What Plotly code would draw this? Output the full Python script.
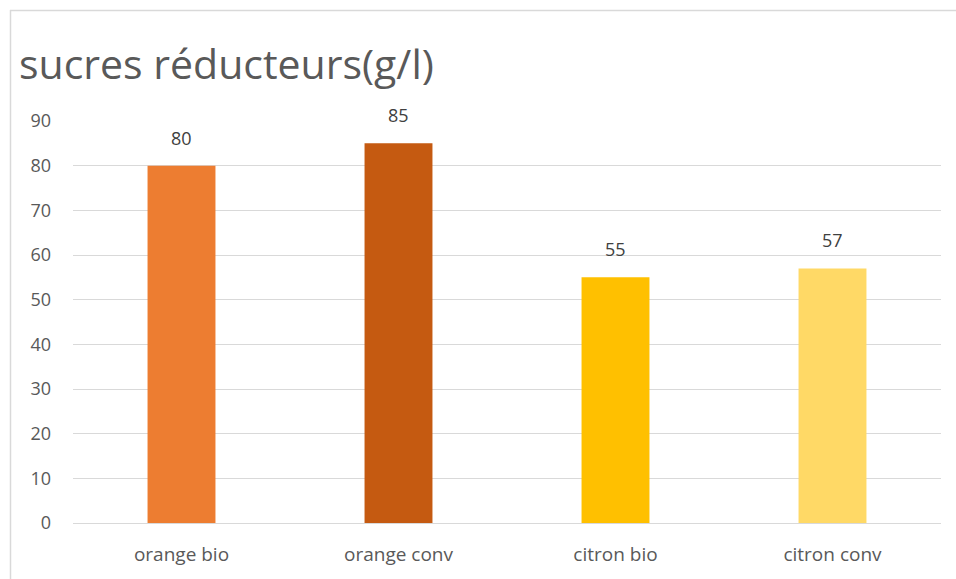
import plotly.graph_objects as go

categories = ["orange bio", "orange conv", "citron bio", "citron conv"]
values = [80, 85, 55, 57]
colors = ["#ED7D31", "#C55A11", "#FFC000", "#FFD966"]
y_ticks = [0, 10, 20, 30, 40, 50, 60, 70, 80, 90]

FONT = "Open Sans, Lato, sans-serif"

fig = go.Figure(
    go.Bar(
        x=categories,
        y=values,
        marker=dict(color=colors, line=dict(width=0)),
        width=0.313,
        hoverinfo="x+y",
    )
)

# value labels floating above each bar
for cat, val in zip(categories, values):
    fig.add_annotation(
        x=cat, y=val, text=str(val), showarrow=False,
        yanchor="bottom", yshift=14,
        font=dict(family=FONT, size=18, color="#404040"),
    )

fig.update_layout(
    width=956,
    height=579,
    margin=dict(l=73, r=15, t=121, b=56),
    paper_bgcolor="white",
    plot_bgcolor="white",
    showlegend=False,
    font=dict(family=FONT, color="#595959"),
    title=dict(
        text="sucres réducteurs(g/l)",
        x=19 / 956,
        xanchor="left",
        y=1 - 65 / 579,
        yanchor="middle",
        font=dict(family=FONT, size=41, color="#595959"),
    ),
    xaxis=dict(
        showgrid=False,
        showline=False,
        ticks="",
        tickfont=dict(family=FONT, size=19, color="#595959"),
        ticklabelstandoff=18,
    ),
    yaxis=dict(
        range=[0, 90],
        tickvals=y_ticks,
        showgrid=True,
        gridcolor="#D9D9D9",
        gridwidth=1.3,
        zeroline=True,
        zerolinecolor="#D9D9D9",
        zerolinewidth=1.3,
        showline=False,
        ticks="",
        tickfont=dict(family=FONT, size=18, color="#595959"),
        ticklabelstandoff=21,
    ),
    shapes=[
        # chart frame (top and left edges)
        dict(type="line", xref="paper", yref="paper",
             x0=(10 - 73) / 868, x1=(1000 - 73) / 868,
             y0=(523 - 10.5) / 402, y1=(523 - 10.5) / 402,
             line=dict(color="#D9D9D9", width=1.5)),
        dict(type="line", xref="paper", yref="paper",
             x0=(10.5 - 73) / 868, x1=(10.5 - 73) / 868,
             y0=(523 - 10) / 402, y1=(523 - 620) / 402,
             line=dict(color="#D9D9D9", width=1.5)),
    ],
)

fig.write_html("out.html")
